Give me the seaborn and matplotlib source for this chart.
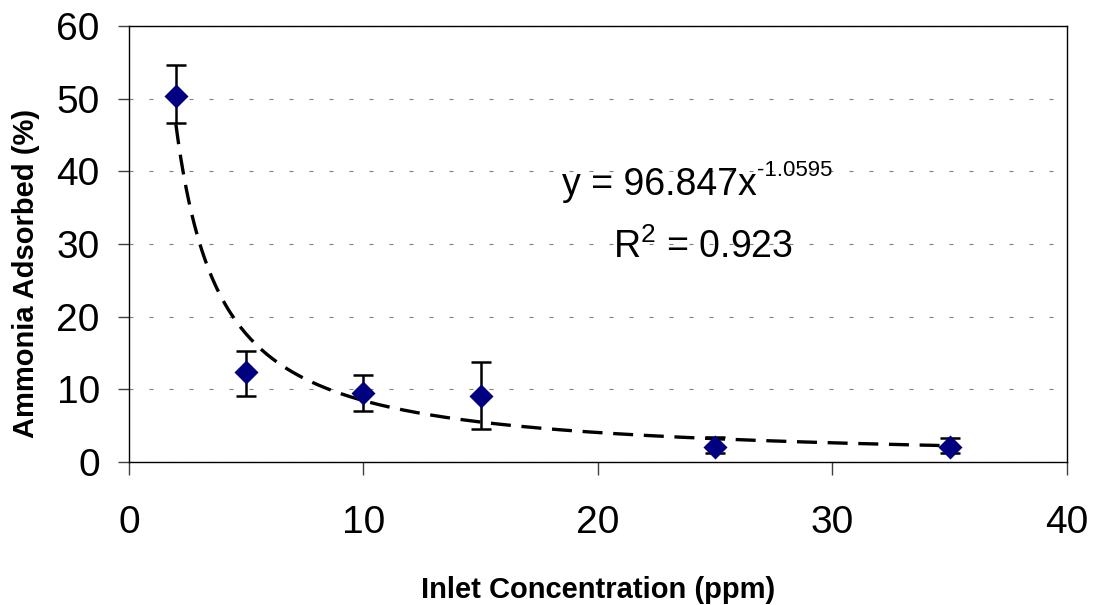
import numpy as np
import pandas as pd
import matplotlib
matplotlib.use("Agg")
import matplotlib.pyplot as plt
import seaborn as sns

# measured points
conc = [2, 5, 10, 15, 25, 35]
adsorbed = [50.4, 12.4, 9.5, 9.1, 2.1, 2.1]
err_low = [3.7, 3.3, 2.5, 4.5, 0.8, 0.8]
err_high = [4.2, 2.9, 2.5, 4.6, 1.3, 1.2]

# power trendline shown on the chart
coef_a = 96.847
coef_b = -1.0595
r_squared = 0.923

sns.set_style("white")
plt.rcParams['font.family'] = ['Liberation Sans', 'DejaVu Sans']
plt.rcParams['mathtext.default'] = 'regular'
plt.rcParams['text.color'] = 'black'
plt.rcParams['axes.labelcolor'] = 'black'
plt.rcParams['xtick.color'] = 'black'
plt.rcParams['ytick.color'] = 'black'

df = pd.DataFrame({'conc': conc, 'adsorbed': adsorbed})
xs = np.linspace(min(conc), max(conc), 300)
trend = pd.DataFrame({'conc': xs, 'fit': coef_a * xs ** coef_b})

fig = plt.figure(figsize=(10.94, 6.05), dpi=100)
ax = fig.add_axes([0.1179, 0.2364, 0.9753 - 0.1179, 0.957 - 0.2364])

ax.yaxis.grid(True, color='#808080', linestyle=(0, (3.6, 14.4)), linewidth=0.8)
ax.set_axisbelow(True)

sns.lineplot(data=trend, x='conc', y='fit', ax=ax, color='black', linewidth=2.4,
             linestyle=(0, (6.0, 3.2)), zorder=2)
ax.errorbar(conc, adsorbed, yerr=[err_low, err_high], fmt='none', ecolor='black',
            elinewidth=1.8, capsize=7.2, capthick=1.8, zorder=3)
sns.scatterplot(data=df, x='conc', y='adsorbed', ax=ax, marker='D', s=150,
                color='#000080', edgecolor='#000080', linewidth=0, zorder=4)

ax.set_xlim(0, 40)
ax.set_ylim(0, 60)
ax.set_xticks([0, 10, 20, 30, 40])
ax.set_yticks([0, 10, 20, 30, 40, 50, 60])

for s in ax.spines.values():
    s.set_color('black')
    s.set_linewidth(1.0)

ax.tick_params(axis='x', direction='out', length=9, width=1, color='#404040',
               labelcolor='black', labelsize=28, pad=22, bottom=True)
ax.tick_params(axis='y', direction='out', length=8, width=1, color='#404040',
               labelcolor='black', labelsize=28, pad=13, left=True)

ax.set_xlabel('Inlet Concentration (ppm)', fontsize=21, fontweight='bold',
              labelpad=25, color='black')
ax.set_ylabel('Ammonia Adsorbed (%)', fontsize=21, fontweight='bold', color='black')
ax.yaxis.set_label_coords(-0.095, 0.432)

t = ax.text(18.46, 36.74, 'y = 96.847x', fontsize=27, va='baseline', ha='left',
            color='black')
ax.annotate('-1.0595', xy=(1.0, 0.74), xycoords=t, fontsize=16,
            va='baseline', ha='left', color='black')
ax.text(20.64, 28.07, 'R$^2$ = %.3f' % r_squared, fontsize=27, va='baseline',
        ha='left', color='black')

fig.savefig('out.png', dpi=100)
